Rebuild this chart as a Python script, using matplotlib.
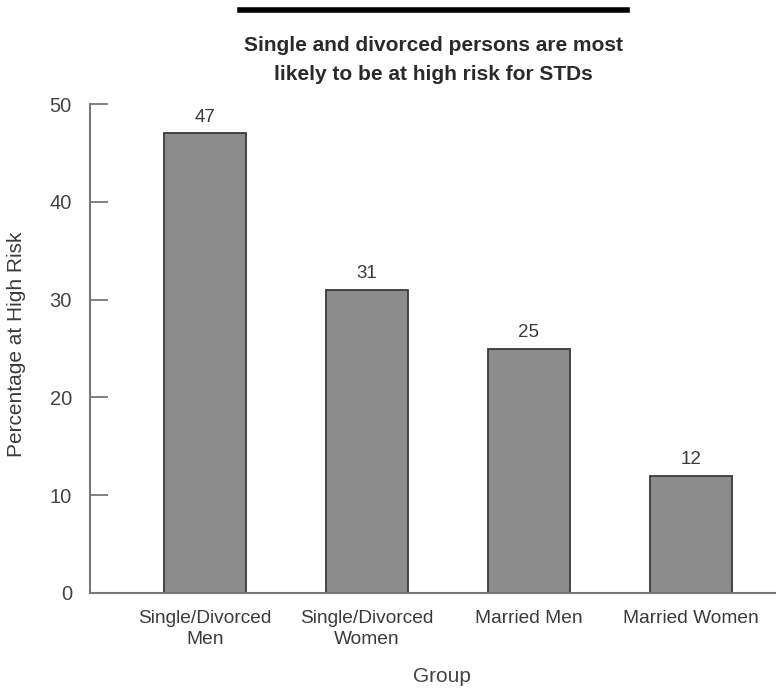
import matplotlib
matplotlib.use("Agg")
import matplotlib.pyplot as plt
from matplotlib.lines import Line2D

categories = ["Single/Divorced\nMen", "Single/Divorced\nWomen", "Married Men", "Married Women"]
values = [47, 31, 25, 12]
y_ticks = [0, 10, 20, 30, 40, 50]
title_text = "Single and divorced persons are most\nlikely to be at high risk for STDs"
y_label = "Percentage at High Risk"
x_label = "Group"

plt.rcParams["font.family"] = ["Liberation Sans", "DejaVu Sans"]

fig = plt.figure(figsize=(7.76, 6.88), dpi=100)
ax = fig.add_axes([90 / 776, 1 - 593 / 688, 1 - 90 / 776, (593 - 104) / 688])

x = list(range(len(categories)))
bars = ax.bar(x, values, width=0.51, color="#8c8c8c", edgecolor="#3a3a3a", linewidth=1.3)

for xi, v in zip(x, values):
    ax.text(xi, v + 0.8, str(v), ha="center", va="bottom", fontsize=13.5, color="#3a3a3a")

ax.set_xlim(-0.71, 3.525)
ax.set_ylim(0, 50)
ax.set_yticks(y_ticks)
ax.set_xticks(x)
ax.set_xticklabels(categories, fontsize=13.8, color="#3a3a3a", linespacing=1.3)
ax.tick_params(axis="x", length=0, pad=12)
ax.tick_params(axis="y", direction="in", length=13, width=1.3, color="#777777",
               labelsize=14.5, labelcolor="#444444", pad=13)

for side in ("top", "right"):
    ax.spines[side].set_visible(False)
for side in ("left", "bottom"):
    ax.spines[side].set_color("#777777")
    ax.spines[side].set_linewidth(1.5)

fig.text(17 / 776, 1 - 344 / 688, y_label, rotation=90, ha="center", va="center",
         fontsize=15, color="#3a3a3a")
fig.text(442 / 776, 1 - 677 / 688, x_label, ha="center", va="center",
         fontsize=15, color="#444444")

# heavy rule above the headline
fig.add_artist(Line2D([240 / 776, 627 / 776], [1 - 10 / 688, 1 - 10 / 688],
                      transform=fig.transFigure, color="black", linewidth=4))

fig.text(433 / 776, 1 - 60 / 688, title_text, ha="center", va="center",
         fontsize=15, fontweight="bold", color="#2a2a2a", linespacing=1.65)

fig.savefig("out.png", dpi=100)
